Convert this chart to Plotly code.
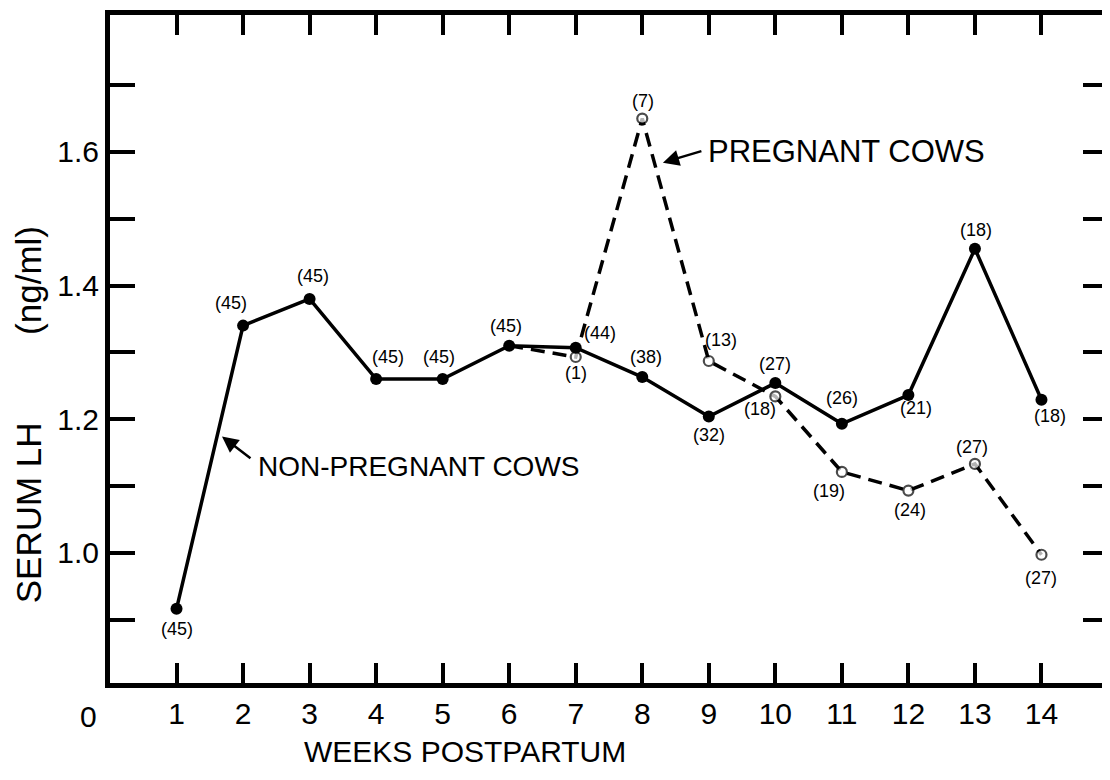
import plotly.graph_objects as go

# ---- data ----
weeks_np = [1, 2, 3, 4, 5, 6, 7, 8, 9, 10, 11, 12, 13, 14]
lh_np = [0.916, 1.340, 1.380, 1.260, 1.260, 1.310, 1.307, 1.263, 1.204, 1.254, 1.193, 1.236, 1.455, 1.229]
n_np = [45, 45, 45, 45, 45, 45, 44, 38, 32, 27, 26, 21, 18, 18]

weeks_p = [6, 7, 8, 9, 10, 11, 12, 13, 14]
lh_p = [1.310, 1.293, 1.650, 1.287, 1.234, 1.121, 1.093, 1.133, 0.997]
n_p = [None, 1, 7, 13, 18, 19, 24, 27, 27]

x_ticks = list(range(1, 15))
y_ticks = [0.9, 1.0, 1.1, 1.2, 1.3, 1.4, 1.5, 1.6, 1.7]
y_ticklabels = ["", "1.0", "", "1.2", "", "1.4", "", "1.6", ""]

# ---- styling (label offsets in pixels) ----
off_np = [(0, -20), (-12, 23), (3, 23), (12, 22), (-4, 22), (-3, 20), (24, 15),
          (4, 20), (0, -19), (0, 19), (0, 26), (8, -13), (1, 19), (9, -16)]
off_p = [None, (0, -16), (1, 18), (12, 21), (-15, -13), (-13, -19), (2, -19), (-3, 17), (0, -23)]

FONT = "Liberation Sans, Arial, sans-serif"
BLACK = "black"
NB = "\u00a0"

fig = go.Figure()

fig.add_trace(go.Scatter(
    x=weeks_p, y=lh_p, mode="lines+markers",
    line=dict(color=BLACK, width=3.5, dash="14px,8px"),
    marker=dict(symbol="circle", size=[0] + [10] * (len(weeks_p) - 1), color="white",
                line=dict(color=BLACK, width=2.2)),
    showlegend=False, hoverinfo="skip"))

fig.add_trace(go.Scatter(
    x=weeks_np, y=lh_np, mode="lines+markers",
    line=dict(color=BLACK, width=3.5),
    marker=dict(symbol="circle", size=12, color=BLACK),
    showlegend=False, hoverinfo="skip"))

lab_font = dict(family=FONT, size=18, color=BLACK)
ann = []
for x, y, n, o in zip(weeks_np, lh_np, n_np, off_np):
    ann.append(dict(x=x, y=y, text=f"({n})", showarrow=False, xshift=o[0], yshift=o[1],
                    xanchor="center", yanchor="middle", font=lab_font))
for x, y, n, o in zip(weeks_p, lh_p, n_p, off_p):
    if n is None:
        continue
    ann.append(dict(x=x, y=y, text=f"({n})", showarrow=False, xshift=o[0], yshift=o[1],
                    xanchor="center", yanchor="middle", font=lab_font))

# series labels with arrows
ann.append(dict(x=8.31, y=1.584, ax=40, ay=-12, text="", showarrow=True,
                arrowhead=2, arrowsize=1.3, arrowwidth=2.5, arrowcolor=BLACK))
ann.append(dict(x=8.96, y=1.600, text="PREGNANT COWS", showarrow=False,
                xanchor="left", yanchor="middle",
                font=dict(family=FONT, size=31, color=BLACK)))
ann.append(dict(x=1.683, y=1.174, ax=30, ay=23, text="", showarrow=True,
                arrowhead=2, arrowsize=1.3, arrowwidth=2.5, arrowcolor=BLACK))
ann.append(dict(x=2.19, y=1.129, text="NON-PREGNANT COWS", showarrow=False,
                xanchor="left", yanchor="middle",
                font=dict(family=FONT, size=28, color=BLACK)))

# axis titles & zero label
ann.append(dict(xref="paper", yref="paper", x=0.356, y=-0.103, text="WEEKS POSTPARTUM",
                xanchor="center", yanchor="middle",
                showarrow=False, font=dict(family=FONT, size=30, color=BLACK)))
ann.append(dict(xref="paper", yref="paper", x=-0.082, y=0.401,
                text="SERUM LH" + NB * 9 + "(ng/ml)", textangle=-90,
                xanchor="center", yanchor="middle",
                showarrow=False, font=dict(family=FONT, size=35, color=BLACK)))
ann.append(dict(xref="x", yref="paper", x=0, y=0, xshift=-22, yshift=-33, text="0",
                xanchor="center", yanchor="middle",
                showarrow=False, font=dict(family=FONT, size=30, color=BLACK)))

# page body has an 8px default margin: size/margins compensate so the plot
# area lands at the same window pixels as the reference
fig.update_layout(
    width=1102, height=772,
    margin=dict(l=102, r=2, t=7, b=97, autoexpand=False),
    paper_bgcolor="white", plot_bgcolor="white",
    annotations=ann,
    font=dict(family=FONT, color=BLACK),
)
fig.update_xaxes(range=[0, 15], tickvals=x_ticks, ticktext=[str(v) for v in x_ticks],
                 ticks="inside", ticklen=20, tickwidth=3.5, tickcolor=BLACK,
                 showline=True, linewidth=5, linecolor=BLACK, mirror="allticks",
                 showgrid=False, zeroline=False, automargin=False,
                 tickfont=dict(family=FONT, size=30, color=BLACK))
fig.update_yaxes(range=[0.805, 1.805], tickvals=y_ticks, ticktext=y_ticklabels,
                 ticks="inside", ticklen=25, tickwidth=3.5, tickcolor=BLACK,
                 showline=True, linewidth=5, linecolor=BLACK, mirror="allticks",
                 showgrid=False, zeroline=False, automargin=False,
                 tickfont=dict(family=FONT, size=30, color=BLACK))

fig.write_html("out.html")
